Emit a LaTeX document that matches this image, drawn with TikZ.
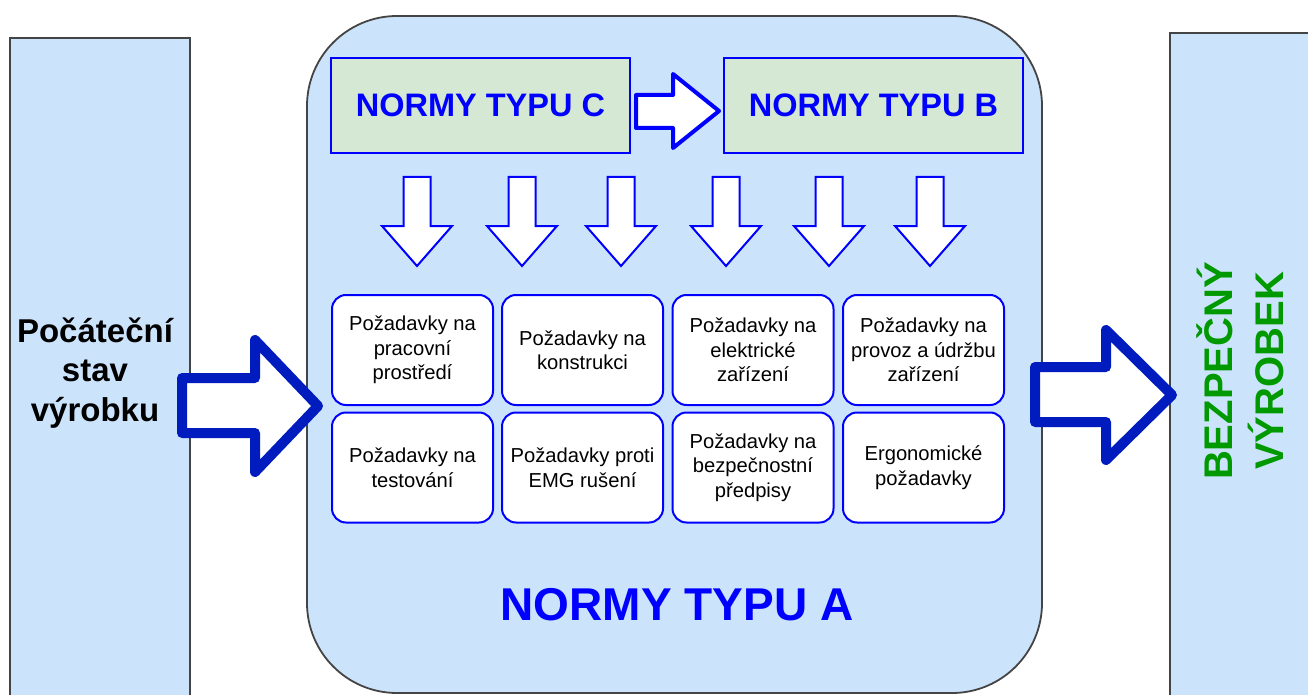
\documentclass[tikz,border=0pt]{standalone}
\usepackage{fontspec}
\setmainfont{Liberation Sans}
\definecolor{lightblue}{HTML}{CCE4FB}
\definecolor{boxgreen}{HTML}{D5E8D4}
\definecolor{pureblue}{HTML}{0000FF}
\definecolor{darkarrow}{HTML}{001BBE}
\definecolor{okgreen}{HTML}{009900}
\definecolor{framegray}{HTML}{444444}
\tikzset{
  bar/.style={draw=framegray, line width=1.8pt, fill=lightblue, anchor=north west, inner sep=0pt, outer sep=0pt},
  bigframe/.style={draw=framegray, line width=1.8pt, fill=lightblue, rounded corners=90pt, anchor=north west, inner sep=0pt, outer sep=0pt},
  topbox/.style={draw=pureblue, line width=2pt, fill=boxgreen, minimum width=299pt, minimum height=95pt, inner sep=0pt, text=pureblue, font=\fontsize{32.5}{36}\selectfont\bfseries},
  reqbox/.style={draw=pureblue, line width=2pt, fill=white, rounded corners=14pt, minimum width=161pt, minimum height=110pt, inner sep=0pt, align=center, font=\fontsize{20.2}{24.5}\selectfont},
  downarrow/.style={draw=pureblue, line width=2pt, fill=white},
  smallarrow/.style={draw=pureblue, line width=4pt, fill=white, line join=round},
  bigarrow/.style={draw=darkarrow, line width=10pt, fill=white, line join=round},
}
\begin{document}
\begin{tikzpicture}[x=1pt,y=-1pt]
\useasboundingbox (0,0) rectangle (1308,695);
% side bars
\node[bar, minimum width=180pt, minimum height=680pt] (leftbar) at (10,38) {};
\node[bar, minimum width=160pt, minimum height=690pt] (rightbar) at (1170,33) {};
% main frame
\node[bigframe, minimum width=735pt, minimum height=677pt] (frame) at (307,16) {};
% top boxes
\node[topbox] (typc) at (480.5,105.5) {NORMY TYPU C};
\node[topbox] (typb) at (873.5,105.5) {NORMY TYPU B};
\draw[smallarrow] (636,95) -- (673,95) -- (673,74) -- (719,111) -- (673,148) -- (673,128) -- (636,128) -- cycle;
% down arrows
\foreach \cx in {417,522,621,726,829,930}{
  \draw[downarrow] (\cx-13.5,177) -- (\cx+13.5,177) -- (\cx+13.5,226) -- (\cx+35,226) -- (\cx,266) -- (\cx-35,226) -- (\cx-13.5,226) -- cycle;
}
% requirement boxes
\node[reqbox] (r11) at (412.5,350) {Požadavky na\\pracovní\\prostředí};
\node[reqbox] (r12) at (582.5,350) {Požadavky na\\konstrukci};
\node[reqbox] (r13) at (753,350) {Požadavky na\\elektrické\\zařízení};
\node[reqbox] (r14) at (923.5,350) {Požadavky na\\provoz a údržbu\\zařízení};
\node[reqbox] (r21) at (412.5,467.5) {Požadavky na\\testování};
\node[reqbox] (r22) at (582.5,467.5) {Požadavky proti\\EMG rušení};
\node[reqbox] (r23) at (753,467.5) {Požadavky na\\bezpečnostní\\předpisy};
\node[reqbox] (r24) at (923.5,467.5) {Ergonomické\\požadavky};
% labels
\node[font=\fontsize{46}{50}\selectfont\bfseries, text=pureblue] (typa) at (677,605) {NORMY TYPU A};
\node[font=\fontsize{33}{39.5}\selectfont\bfseries, align=center] (start) at (95,373) {Počáteční\\stav\\výrobku};
\node[font=\fontsize{40}{51}\selectfont\bfseries, text=okgreen, align=center, rotate=90] (safe) at (1240,371) {BEZPEČNÝ\\VÝROBEK};
% big arrows
\draw[bigarrow] (182,378) -- (255,378) -- (255,340) -- (318,406) -- (255,472) -- (255,433) -- (182,433) -- cycle;
\draw[bigarrow] (1035,367) -- (1106,367) -- (1106,330) -- (1172,395) -- (1106,460) -- (1106,422) -- (1035,422) -- cycle;
\end{tikzpicture}
\end{document}
